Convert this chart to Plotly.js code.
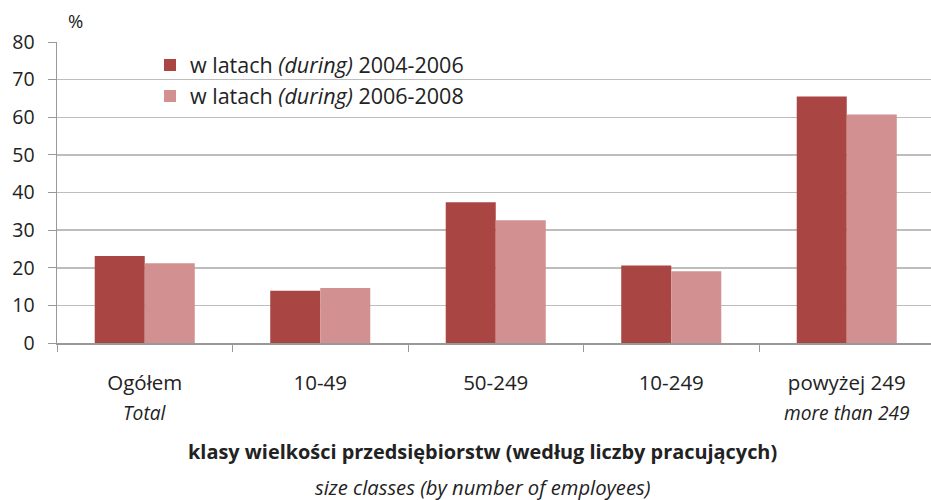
<!DOCTYPE html>
<html>
<head>
<meta charset="utf-8">
<script src="https://cdn.plot.ly/plotly-3.0.1.min.js"></script>
<style>html,body{margin:0;padding:0;background:#fff;}#chart{width:931px;height:500px;}</style>
</head>
<body>
<div id="chart"></div>
<script>
const categories = ["Ogółem", "10-49", "50-249", "10-249", "powyżej 249"];
const subLabels = ["Total", "", "", "", "more than 249"];
const series2004 = [23.1, 13.9, 37.4, 20.6, 65.5];
const series2006 = [21.2, 14.6, 32.6, 19.1, 60.7];
const seriesNames = ["w latach <i>(during)</i> 2004-2006", "w latach <i>(during)</i> 2006-2008"];
const yTicks = [0, 10, 20, 30, 40, 50, 60, 70, 80];

const FONT = "'Open Sans', Lato, sans-serif";
const plotTop = 41.5, plotBottom = 343.3, plotH = plotBottom - plotTop;
const pyToPaper = py => (plotBottom - py) / plotH;
const pxToPaper = px => (px - 57) / 874;

const traces = [
  {type: "bar", x: categories, y: series2004, name: seriesNames[0], legendgroup: "a",
   marker: {color: "#A94643", line: {width: 0}}, hoverinfo: "x+y"},
  {type: "bar", x: categories, y: series2006, name: seriesNames[1], legendgroup: "b",
   marker: {color: "#D29190", line: {width: 0}}, hoverinfo: "x+y"}
];

const annotations = [
  {text: "%", xref: "paper", yref: "paper", x: pxToPaper(66), y: pyToPaper(20), xanchor: "left", yanchor: "middle",
   showarrow: false, font: {family: FONT, size: 18.5, color: "#222"}},
  {text: "<b>klasy wielkości przedsiębiorstw (według liczby pracujących)</b>", xref: "paper", yref: "paper",
   x: pxToPaper(482), y: pyToPaper(452), xanchor: "center", yanchor: "middle", showarrow: false,
   font: {family: FONT, size: 19.9, color: "#222"}},
  {text: "<i>size classes (by number of employees)</i>", xref: "paper", yref: "paper",
   x: pxToPaper(482), y: pyToPaper(488), xanchor: "center", yanchor: "middle", showarrow: false,
   font: {family: FONT, size: 20.2, color: "#222"}}
];
subLabels.forEach((s, i) => {
  if (s) annotations.push({text: "<i>" + s + "</i>", xref: "x", yref: "paper", x: categories[i],
    y: pyToPaper(413), xanchor: "center", yanchor: "middle", showarrow: false,
    font: {family: FONT, size: 19.2, color: "#222"}});
});

const layout = {
  width: 931, height: 500,
  margin: {l: 57, r: 0, t: plotTop, b: 500 - plotBottom, pad: 0},
  paper_bgcolor: "#fff", plot_bgcolor: "#fff",
  barmode: "group", bargap: 0.43, bargroupgap: 0,
  font: {family: FONT, color: "#222"},
  showlegend: true,
  legend: {x: pxToPaper(150), y: pyToPaper(44), xanchor: "left", yanchor: "top", bgcolor: "rgba(0,0,0,0)",
    borderwidth: 0, traceorder: "grouped", tracegroupgap: 0, font: {family: FONT, size: 21.5, color: "#222"}},
  shapes: [{type: "rect", xref: "paper", yref: "paper", x0: pxToPaper(120), x1: pxToPaper(507),
    y0: pyToPaper(108), y1: pyToPaper(52), fillcolor: "#fff", line: {width: 0}, layer: "between"}],
  xaxis: {type: "category", range: [-0.5, -0.5 + 874 / 175.5], tickson: "boundaries",
    ticks: "outside", ticklen: 7, tickcolor: "#999", tickwidth: 1,
    showline: true, linecolor: "#999", linewidth: 1.5, showgrid: false, zeroline: false,
    tickfont: {family: FONT, size: 20.5, color: "#222"}, ticklabelstandoff: 21, fixedrange: true},
  yaxis: {range: [0, 80], tickvals: yTicks, ticks: "outside", ticklen: 8, tickcolor: "#999",
    showline: true, linecolor: "#999", linewidth: 1.5, showgrid: true, gridcolor: "#BDBDBD", gridwidth: 1.5,
    zeroline: false, tickfont: {family: FONT, size: 19.5, color: "#222"}, ticklabelstandoff: 9, fixedrange: true},
  annotations: annotations
};

Plotly.newPlot("chart", traces, layout, {displayModeBar: false, staticPlot: true});
</script>
</body>
</html>
